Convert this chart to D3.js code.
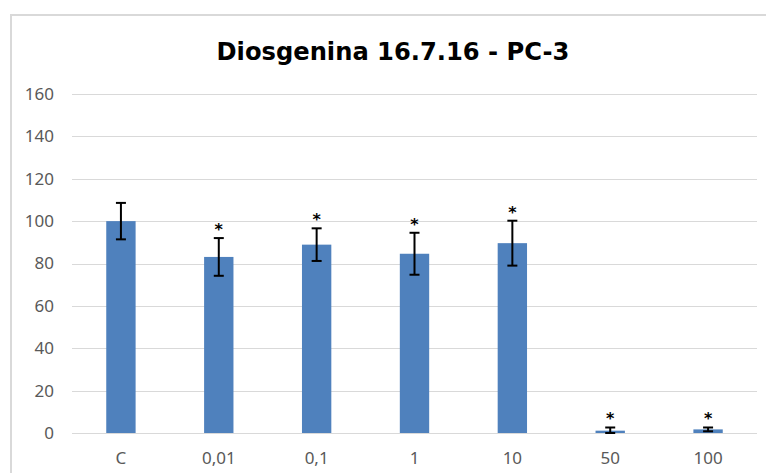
<!DOCTYPE html>
<html>
<head>
<meta charset="utf-8">
<script src="https://cdn.jsdelivr.net/npm/d3@7"></script>
<style>
  html, body { margin: 0; padding: 0; background: #fff; }
  svg { display: block; }
</style>
</head>
<body>
<svg class="chart"></svg>
<script>
const size = { w: 766, h: 473 };
const margin = { top: 94, right: 9, bottom: 40, left: 72 };

// data
const categories = ["C", "0,01", "0,1", "1", "10", "50", "100"];
const values = [100, 83.1, 88.9, 84.6, 89.6, 1.1, 1.7];
const errors = [8.6, 8.9, 7.7, 9.9, 10.6, 1.5, 0.9];
const significant = [false, true, true, true, true, true, true];
const yTicks = [0, 20, 40, 60, 80, 100, 120, 140, 160];
const title = "Diosgenina 16.7.16 - PC-3";

const svg = d3.select("svg.chart").attr("width", size.w).attr("height", size.h);

// chart area border (only top and left visible in the crop)
svg.append("rect")
  .attr("x", 11).attr("y", 15)
  .attr("width", size.w + 20).attr("height", size.h + 20)
  .attr("fill", "none")
  .attr("stroke", "#d9d9d9")
  .attr("stroke-width", 2);

const innerW = size.w - margin.left - margin.right;
const innerH = size.h - margin.top - margin.bottom;

const g = svg.append("g").attr("transform", `translate(${margin.left},${margin.top})`);

const x = d3.scaleBand()
  .domain(categories)
  .range([0, innerW])
  .paddingInner(0.7)
  .paddingOuter(0.35);

const y = d3.scaleLinear().domain([0, 160]).range([innerH, 0]);

// gridlines
g.append("g")
  .selectAll("line")
  .data(yTicks)
  .join("line")
  .attr("x1", 0)
  .attr("x2", innerW)
  .attr("y1", (d) => Math.round(y(d)) + 0.5)
  .attr("y2", (d) => Math.round(y(d)) + 0.5)
  .attr("stroke", "#d9d9d9")
  .attr("stroke-width", 1);

// y axis labels
const yAxis = g.append("g")
  .call(d3.axisLeft(y).tickValues(yTicks).tickSize(0).tickPadding(18));
yAxis.select(".domain").remove();
yAxis.selectAll("text")
  .attr("fill", "#595959")
  .style("font-family", "'Noto Sans', sans-serif")
  .style("font-size", "17px");

// x axis labels
const xAxis = g.append("g")
  .attr("transform", `translate(0,${innerH})`)
  .call(d3.axisBottom(x).tickSize(0).tickPadding(19));
xAxis.select(".domain").remove();
xAxis.selectAll("text")
  .attr("fill", "#595959")
  .style("font-family", "'Noto Sans', sans-serif")
  .style("font-size", "17px");

// bars
g.append("g")
  .selectAll("rect")
  .data(values)
  .join("rect")
  .attr("x", (d, i) => x(categories[i]))
  .attr("y", (d) => y(d))
  .attr("width", x.bandwidth())
  .attr("height", (d) => innerH - y(d))
  .attr("fill", "#4f81bd");

// error bars
const errG = g.append("g").attr("stroke", "#000").attr("stroke-width", 2);
values.forEach((v, i) => {
  const cx = x(categories[i]) + x.bandwidth() / 2;
  const top = y(v + errors[i]);
  const bot = y(Math.max(0, v - errors[i]));
  errG.append("line").attr("x1", cx).attr("x2", cx).attr("y1", top).attr("y2", bot);
  errG.append("line").attr("x1", cx - 5).attr("x2", cx + 5).attr("y1", top).attr("y2", top);
  errG.append("line").attr("x1", cx - 5).attr("x2", cx + 5).attr("y1", bot).attr("y2", bot);
});

// significance stars
g.append("g")
  .selectAll("text")
  .data(values.map((v, i) => ({ v, i })).filter((d) => significant[d.i]))
  .join("text")
  .attr("x", (d) => x(categories[d.i]) + x.bandwidth() / 2)
  .attr("y", (d) => y(d.v + errors[d.i]) - 3)
  .attr("text-anchor", "middle")
  .attr("fill", "#000")
  .style("font-family", "'DejaVu Sans', sans-serif")
  .style("font-weight", "bold")
  .style("font-size", "16px")
  .text("*");

// title
const titleText = svg.append("text")
  .attr("x", 393)
  .attr("y", 60)
  .attr("text-anchor", "middle")
  .attr("fill", "#000")
  .style("font-family", "'DejaVu Sans', sans-serif")
  .style("font-weight", "bold")
  .style("font-size", "26px")
  .text(title);
// shrink to match reference width
const tw = titleText.node().getComputedTextLength();
if (tw > 353) titleText.style("font-size", (26 * 353 / tw).toFixed(1) + "px");
</script>
</body>
</html>
